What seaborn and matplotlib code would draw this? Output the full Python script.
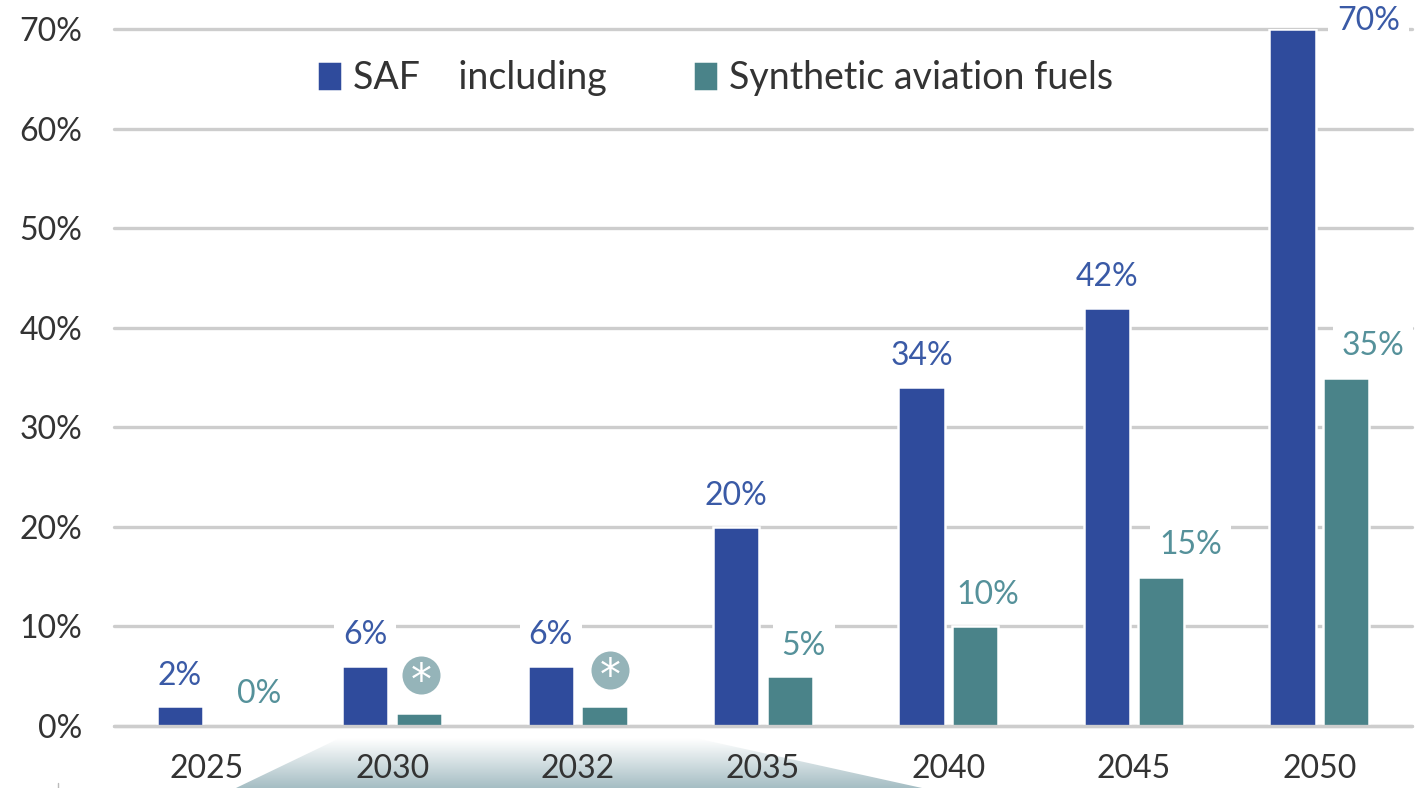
import numpy as np
import pandas as pd
import seaborn as sns
import matplotlib.pyplot as plt
from matplotlib.colors import LinearSegmentedColormap
from matplotlib.patches import Polygon

years = ["2025", "2030", "2032", "2035", "2040", "2045", "2050"]
saf_values = [2, 6, 6, 20, 34, 42, 70]
synthetic_values = [0, 1.3, 2, 5, 10, 15, 35]
saf_name = "SAF    including"
synthetic_name = "Synthetic aviation fuels"
y_ticks = [0, 10, 20, 30, 40, 50, 60, 70]

# the two "*" badges sit over the small synthetic bars
badge_years = ["2030", "2032"]
badge_heights = [5.1, 5.6]

BLUE = "#2f4b9c"
TEAL = "#4a8389"
BLUE_TEXT = "#3a5aa6"
TEAL_TEXT = "#55919a"
DARK = "#333333"

sns.set_theme(style="white")
plt.rcParams["font.family"] = ["Lato", "DejaVu Sans"]

df = pd.DataFrame({
    "year": years * 2,
    "value": saf_values + synthetic_values,
    "fuel": [saf_name] * len(years) + [synthetic_name] * len(years),
})

W, H = 1426, 788
fig = plt.figure(figsize=(W / 100, H / 100), dpi=100)

# gradient trapezoid behind the x labels
bg = fig.add_axes([0, 0, 1, 1], zorder=-1)
cmap = LinearSegmentedColormap.from_list("fade", ["#ffffff", "#a6bec4"])
grad = bg.imshow(np.linspace(0, 1, 60).reshape(-1, 1), cmap=cmap, aspect="auto",
                 extent=(230, 930, 788, 738))
bg.set_xlim(0, W)
bg.set_ylim(H, 0)
bg.axis("off")
shape = Polygon([(236, 788), (340, 738), (695, 738), (922, 788)],
                transform=bg.transData, fill=False, lw=0)
bg.add_patch(shape)
grad.set_clip_path(shape)
bg.plot([58, 58], [783, 788], color="#bbbbbb", lw=1)

ax = fig.add_axes([114 / W, 1 - 726 / H, (1412 - 114) / W, (726 - 29) / H])
ax.patch.set_alpha(0)
sns.barplot(data=df, x="year", y="value", hue="fuel", order=years,
            palette=[BLUE, TEAL], saturation=1, width=0.58, gap=0.14, ax=ax,
            edgecolor="white", linewidth=1.8)
ax.set_ylim(0, 70)
ax.set_xlim(-0.5, 6.5)
ax.set_xlabel("")
ax.set_ylabel("")
sns.despine(ax=ax, left=True, bottom=True, top=True, right=True)

# gridlines, allowed to run past the axes at the top
ax.set_axisbelow(True)
ax.set_yticks(y_ticks)
ax.set_yticklabels([f"{v}%" for v in y_ticks])
ax.yaxis.grid(True, color="#cdcdcd", lw=2.4)
for line in ax.get_ygridlines():
    line.set_clip_on(False)
ax.axhline(0, color="#cdcdcd", lw=2.4, zorder=3, clip_on=False)
ax.tick_params(axis="y", length=0, pad=23, labelsize=23, labelcolor=DARK)
ax.tick_params(axis="x", length=0, pad=20, labelsize=23, labelcolor=DARK)

saf_bars = ax.containers[0]
syn_bars = ax.containers[1]
for bar in syn_bars:
    if bar.get_height() == 0:
        bar.set_linewidth(0)


# value labels: (dx, dy) in pixels from the top centre of the bar
def put_label(bar, text, color, nudge):
    px = 72 / fig.dpi
    ax.annotate(text, (bar.get_x() + bar.get_width() / 2, bar.get_height()),
                xytext=(nudge[0] * px, nudge[1] * px), textcoords="offset points",
                ha="center", va="center", fontsize=23, color=color, zorder=4,
                annotation_clip=False,
                bbox=dict(boxstyle="square,pad=0.28", fc="white", ec="none"))


saf_nudges = [(0, 30), (0, 31), (0, 31), (0, 31), (0, 31), (0, 31), (76, 8)]
syn_nudges = [(26, 32), None, None, (14, 30), (12, 31), (30, 32), (27, 32)]
for bar, v, n in zip(saf_bars, saf_values, saf_nudges):
    put_label(bar, f"{v}%", BLUE_TEXT, n)
for bar, v, n in zip(syn_bars, synthetic_values, syn_nudges):
    if n is not None:
        put_label(bar, f"{v:g}%", TEAL_TEXT, n)

# badges, the second one is a bit right of its bar
badge_shift = [0.01, 0.03]
for year, h, s in zip(badge_years, badge_heights, badge_shift):
    bar = syn_bars[years.index(year)]
    x = bar.get_x() + bar.get_width() / 2 + s
    ax.scatter([x], [h], s=750, color="#95b4b9", zorder=4, linewidths=0)
    ax.annotate("*", (x, h), xytext=(0, -5), textcoords="offset points", color="white",
                fontsize=30, ha="center", va="center", zorder=5, family="DejaVu Sans")

leg = ax.legend(loc="upper left", bbox_to_anchor=(203 / 1298, 1 - 31 / 697), ncol=2,
                frameon=False, fontsize=27, handlelength=0.66, handleheight=0.85,
                handletextpad=0.3, columnspacing=2.3, borderaxespad=0, borderpad=0,
                labelcolor=DARK)

fig.savefig("out.png", dpi=100)
